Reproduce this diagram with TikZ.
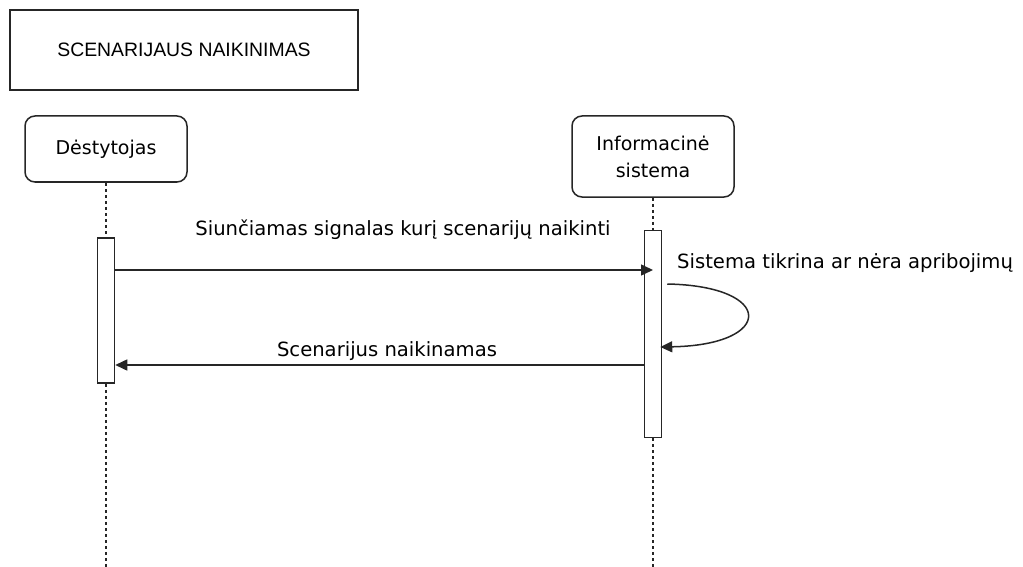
\documentclass[tikz,border=0pt]{standalone}
\usepackage{fontspec}
\setmainfont{DejaVu Sans}
\newfontfamily\titlefont{Liberation Sans}
\usetikzlibrary{arrows.meta}
\begin{document}
\begin{tikzpicture}[x=1pt,y=-1pt,
  frame/.style={draw=black!85, line width=1.5pt, fill=white, inner sep=0pt},
  actor/.style={frame, rounded corners=10pt, minimum width=162pt, align=center,
    font=\fontsize{19}{27}\selectfont},
  activation/.style={frame, minimum width=17pt},
  lifeline/.style={draw=black!85, line width=1.3pt, dash pattern=on 3pt off 3pt},
  msg/.style={draw=black!85, line width=1.5pt, -{Triangle[length=12pt,width=11pt]}},
  lbl/.style={font=\fontsize{19.6}{22}\selectfont, inner sep=0pt}]
\useasboundingbox (0,0) rectangle (1023,567);

% title frame
\node[frame, minimum width=348pt, minimum height=80pt] (title) at (184,50)
  {\titlefont\fontsize{19.4}{22}\selectfont SCENARIJAUS NAIKINIMAS};

% participants
\node[actor, minimum height=66pt] (teacher) at (106,149) {Dėstytojas};
\node[actor, minimum height=81pt] (system) at (653,156.5) {Informacinė\\sistema};

% activation bars
\node[activation, minimum height=145pt] (actL) at (106,310.5) {};
\node[activation, minimum height=207pt] (actR) at (653,334) {};

% lifelines
\coordinate (endL) at (106,567);
\coordinate (endR) at (653,567);
\draw[lifeline] (teacher.south) -- (actL.north);
\draw[lifeline] (actL.south) -- (endL);
\draw[lifeline] (system.south) -- (actR.north);
\draw[lifeline] (actR.south) -- (endR);

% messages
\draw[msg] (actL.east |- 0,270) -- (actR.center |- 0,270);
\node[lbl] (m1) at (403,230) {Siunčiamas signalas kurį scenarijų naikinti};

\draw[msg] ([xshift=5pt]actR.east |- 0,284)
  .. controls (775,286) and (775,345) .. ([xshift=-2pt]actR.east |- 0,347);
\node[lbl, anchor=west] (m2) at (677,263) {Sistema tikrina ar nėra apribojimų};

\draw[msg] (actR.west |- 0,365) -- (actL.east |- 0,365);
\node[lbl] (m3) at (387,351) {Scenarijus naikinamas};
\end{tikzpicture}
\end{document}
